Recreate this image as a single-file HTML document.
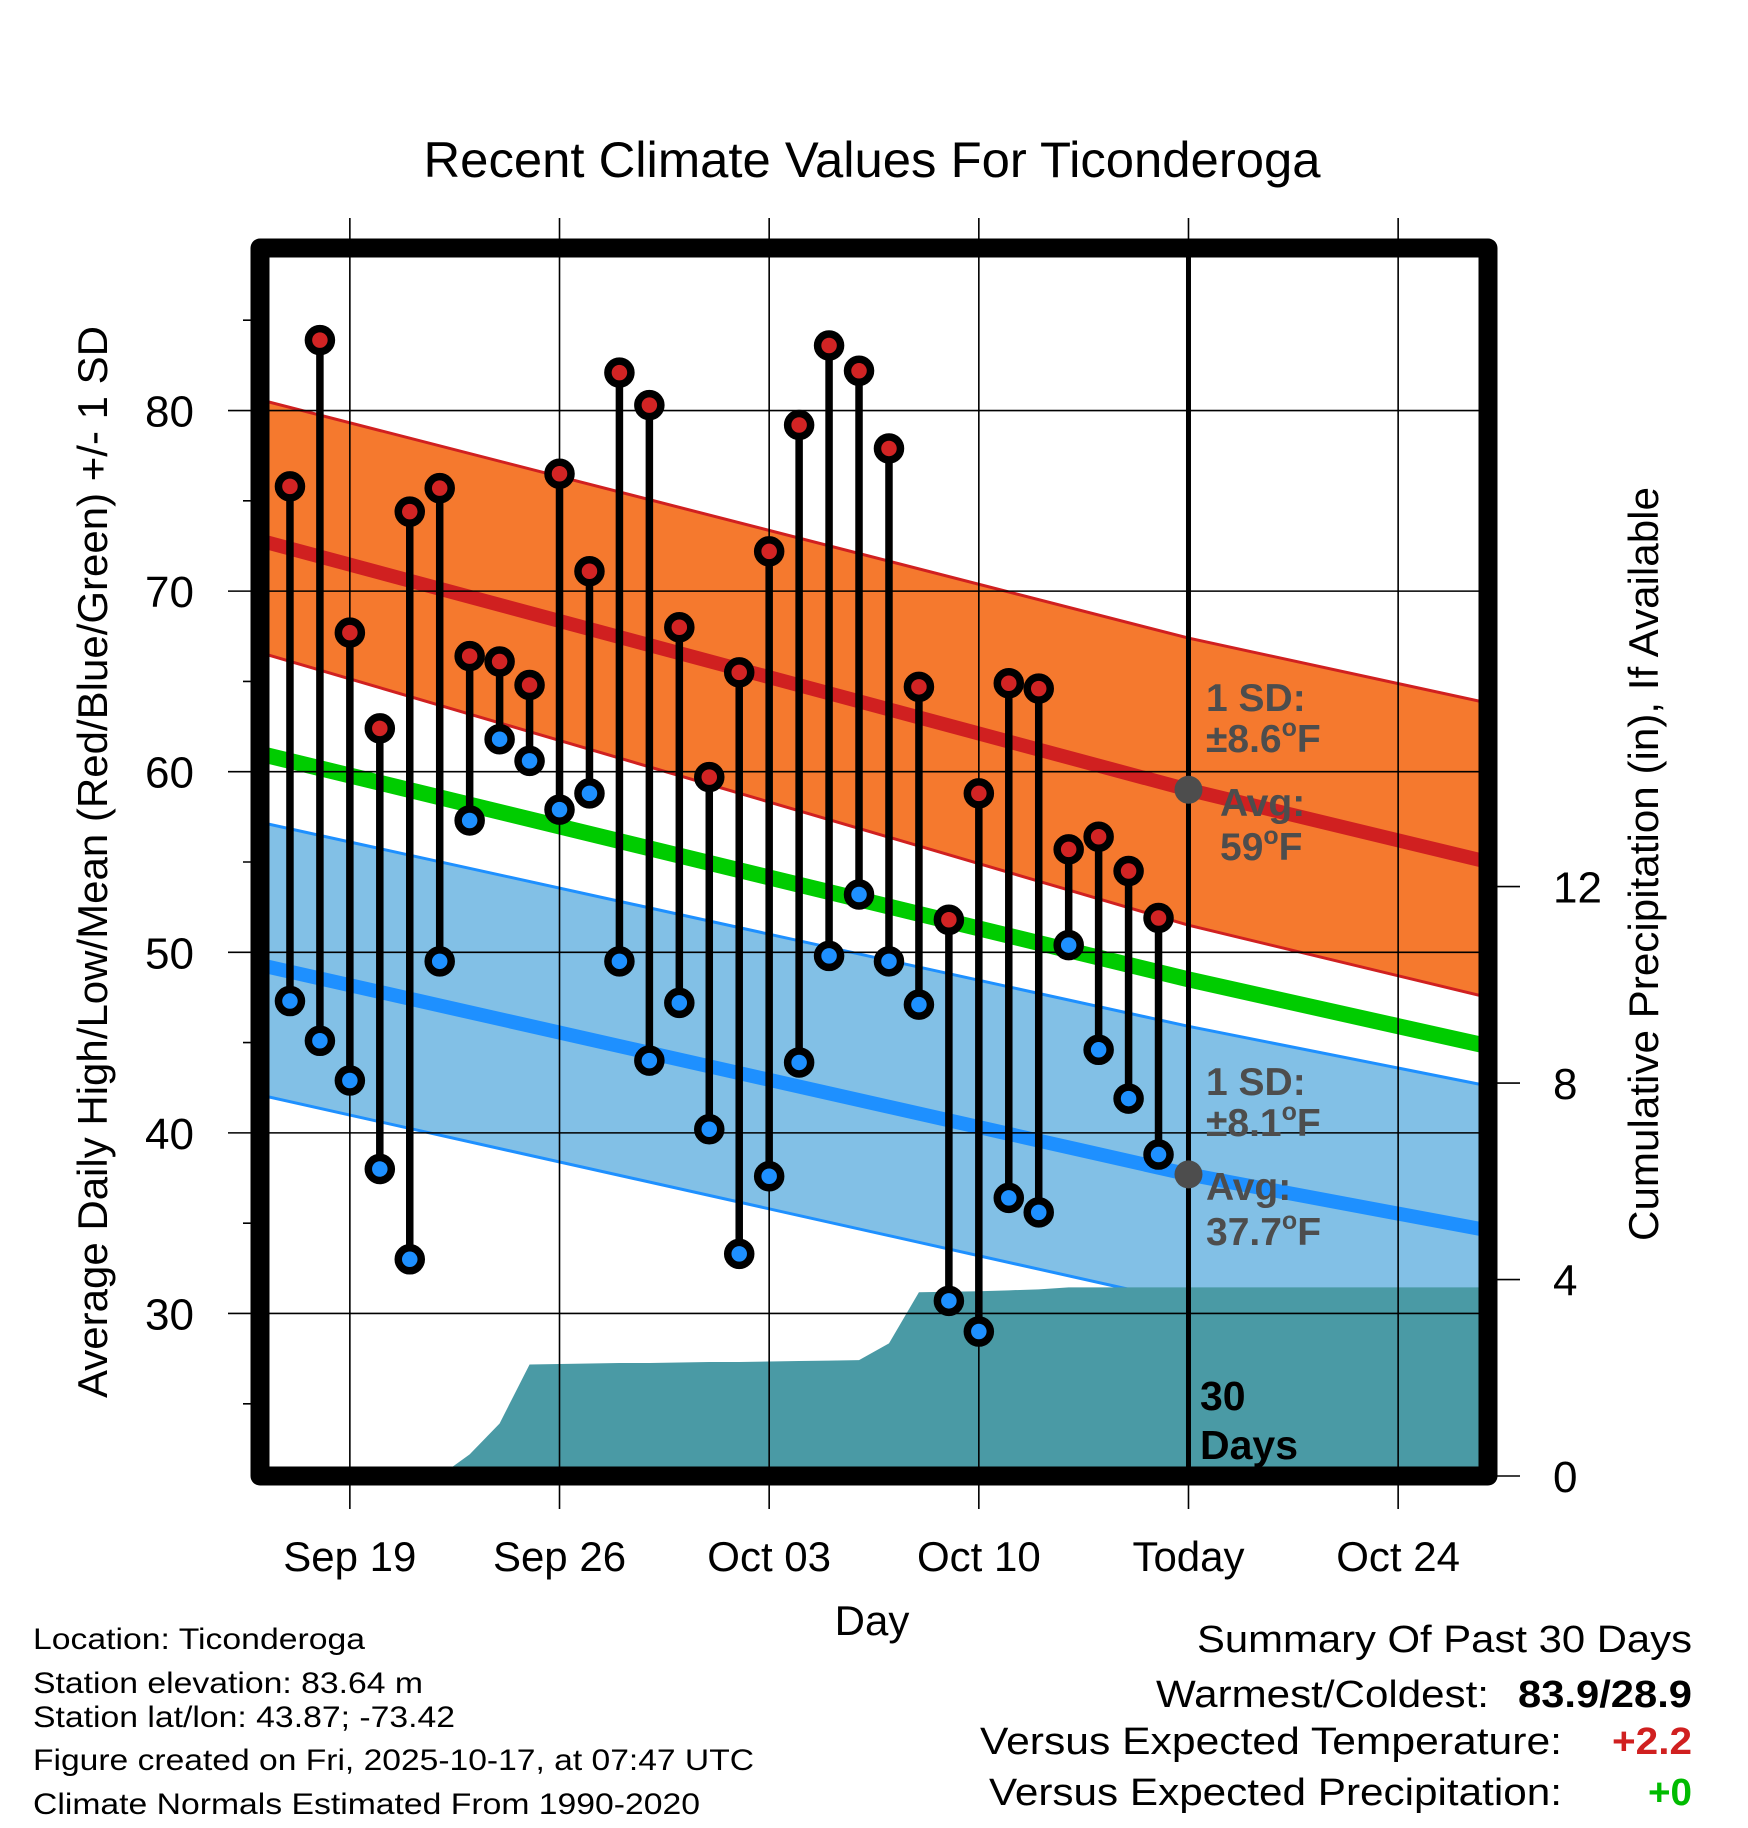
<!DOCTYPE html>
<html><head><meta charset="utf-8">
<style>
html,body{margin:0;padding:0;background:#fff;}
svg{display:block;font-family:"Liberation Sans",sans-serif;}
</style></head>
<body>
<svg id="chart" width="1748" height="1828" viewBox="0 0 1748 1828" xmlns="http://www.w3.org/2000/svg">
<rect x="0" y="0" width="1748" height="1828" fill="#fff"/>
<text x="872" y="177" font-size="50" text-anchor="middle" textLength="897" lengthAdjust="spacingAndGlyphs">Recent Climate Values For Ticonderoga</text>
<g id="plot"></g>
<text transform="translate(107,862) rotate(-90)" font-size="42" text-anchor="middle" textLength="1072" lengthAdjust="spacingAndGlyphs">Average Daily High/Low/Mean (Red/Blue/Green) +/- 1 SD</text>
<text transform="translate(1658,864) rotate(-90)" font-size="42" text-anchor="middle" textLength="754" lengthAdjust="spacingAndGlyphs">Cumulative Precipitation (in), If Available</text>
<text x="872" y="1635" font-size="42" text-anchor="middle">Day</text>
<g font-size="30">
<text x="33" y="1649" textLength="332" lengthAdjust="spacingAndGlyphs">Location: Ticonderoga</text>
<text x="33" y="1693" textLength="390" lengthAdjust="spacingAndGlyphs">Station elevation: 83.64 m</text>
<text x="33" y="1727" textLength="422" lengthAdjust="spacingAndGlyphs">Station lat/lon: 43.87; -73.42</text>
<text x="33" y="1770" textLength="721" lengthAdjust="spacingAndGlyphs">Figure created on Fri, 2025-10-17, at 07:47 UTC</text>
<text x="33" y="1814" textLength="667" lengthAdjust="spacingAndGlyphs">Climate Normals Estimated From 1990-2020</text>
</g>
<g font-size="38">
<text x="1692" y="1652" text-anchor="end" textLength="495" lengthAdjust="spacingAndGlyphs">Summary Of Past 30 Days</text>
<text x="1156" y="1707" textLength="333" lengthAdjust="spacingAndGlyphs">Warmest/Coldest:</text>
<text x="1518" y="1707" font-weight="bold" textLength="174" lengthAdjust="spacingAndGlyphs">83.9/28.9</text>
<text x="980" y="1754" textLength="582" lengthAdjust="spacingAndGlyphs">Versus Expected Temperature:</text>
<text x="1612" y="1754" font-weight="bold" fill="#D02020" textLength="80" lengthAdjust="spacingAndGlyphs">+2.2</text>
<text x="989" y="1805" textLength="573" lengthAdjust="spacingAndGlyphs">Versus Expected Precipitation:</text>
<text x="1648" y="1805" font-weight="bold" fill="#00BB00" textLength="44" lengthAdjust="spacingAndGlyphs">+0</text>
</g>
</svg>
<script>
// ---- data ----
const dayIdx = [-2,-1,0,1,2,3,4,5,6,7,8,9,10,11,12,13,14,15,16,17,18,19,20,21,22,23,24,25,26,27];
const highs = [75.8,83.9,67.7,62.4,74.4,75.7,66.4,66.1,64.8,76.5,71.1,82.1,80.3,68.0,59.7,65.5,72.2,79.2,83.6,82.2,77.9,64.7,51.8,58.8,64.9,64.6,55.7,56.4,54.5,51.9];
const lows = [47.3,45.1,42.9,38.0,33.0,49.5,57.3,61.8,60.6,57.9,58.8,49.5,44.0,47.2,40.2,33.3,37.6,43.9,49.8,53.2,49.5,47.1,30.7,29.0,36.4,35.6,50.4,44.6,41.9,38.8];
const precip = [0,0,0,0,0,0,0.44,1.07,2.27,2.28,2.29,2.30,2.30,2.31,2.32,2.32,2.33,2.34,2.35,2.36,2.70,3.74,3.75,3.76,3.78,3.80,3.84,3.84,3.84,3.84];
const normDays = [-3,28,38];
const hiUpper = [80.6,67.4,63.8];
const hiMean = [72.8,59.0,55.0];
const hiLower = [66.6,51.5,47.5];
const meanNorm = [61.0,48.5,44.8];
const loUpper = [57.2,45.9,42.6];
const loMean = [49.3,37.7,34.6];
const loLower = [42.1,30.6,26.5];
const tempTicks = [30,40,50,60,70,80];
const minorTicks = [25,35,45,55,65,75,85];
const precipTicks = [0,4,8,12];
const xTickDays = [0,7,14,21,28,35];
const xTickLabels = ["Sep 19","Sep 26","Oct 03","Oct 10","Today","Oct 24"];
const todayDay = 28;
const hiSD = "8.6", loSD = "8.1", hiAvg = "59", loAvg = "37.7";

// ---- axes ----
const X0=260, X1=1488, Y0=248, Y1=1476;
const dMin=-3, dMax=38, tMin=21, tMax=89, pMin=0, pMax=25;
const X = d => X0 + (d-dMin)/(dMax-dMin)*(X1-X0);
const Y = t => Y1 - (t-tMin)/(tMax-tMin)*(Y1-Y0);
const P = p => Y1 - (p-pMin)/(pMax-pMin)*(Y1-Y0);
const NS="http://www.w3.org/2000/svg";
const plot=document.getElementById('plot');
function mk(tag, attrs, parent){const e=document.createElementNS(NS,tag);for(const k in attrs)e.setAttribute(k,attrs[k]);(parent||plot).appendChild(e);return e;}

const defs=mk('defs',{});
const cp=mk('clipPath',{id:'clip'},defs);
mk('rect',{x:X0,y:Y0,width:X1-X0,height:Y1-Y0},cp);
const inner=mk('g',{'clip-path':'url(#clip)'});



function band(up,lo,fill,name){
  let pts=normDays.map((d,i)=>X(d)+','+Y(up[i]));
  pts=pts.concat(normDays.slice().reverse().map((d,i)=>X(d)+','+Y(lo[normDays.length-1-i])));
  const e=mk('polygon',{points:pts.join(' '),fill:fill},inner);
  
  
}
function line(vals,color,w,name){
  const e=mk('polyline',{points:normDays.map((d,i)=>X(d)+','+Y(vals[i])).join(' '),fill:'none',stroke:color,'stroke-width':w},inner);
  
  
}
band(hiUpper,hiLower,'#F5792E','high-sd-band');
band(loUpper,loLower,'#82C0E6','low-sd-band');
line(hiUpper,'#D02020',3,'high-upper-edge');
line(hiLower,'#D02020',3,'high-lower-edge');
line(loUpper,'#1E90FF',3,'low-upper-edge');
line(loLower,'#1E90FF',3,'low-lower-edge');
line(hiMean,'#D02020',14,'normal-high-line');
line(loMean,'#1E90FF',14,'normal-low-line');
line(meanNorm,'#00CC00',16,'normal-mean-line');

tempTicks.forEach(t=>{
  const g=mk('line',{x1:228,x2:X1,y1:Y(t),y2:Y(t),stroke:'#000','stroke-width':1.6});
  
  
});
minorTicks.forEach(t=>{
  const g=mk('line',{x1:243,x2:X0,y1:Y(t),y2:Y(t),stroke:'#000','stroke-width':1.6});
  
  
});
xTickDays.forEach((d,i)=>{
  const g=mk('line',{x1:X(d),x2:X(d),y1:218,y2:1509,stroke:'#000','stroke-width':1.6});
  
  
  const t=mk('text',{x:X(d),y:1571,'font-size':42,'text-anchor':'middle'});
  t.textContent=xTickLabels[i];
  
  
});
tempTicks.forEach(t=>{
  const e=mk('text',{x:194,y:Y(t)+16,'font-size':44,'text-anchor':'end'});
  e.textContent=String(t);
  
  
});
precipTicks.forEach(p=>{
  const l=mk('line',{x1:X1,x2:1520,y1:P(p),y2:P(p),stroke:'#000','stroke-width':1.6});
  
  
  const e=mk('text',{x:1553,y:P(p)+16,'font-size':44});
  e.textContent=String(p);
  
  
});

{
  let pts=[X(dayIdx[0])+','+P(0)];
  dayIdx.forEach((d,i)=>pts.push(X(d)+','+P(precip[i])));
  pts.push(X(dMax)+','+P(precip[precip.length-1]));
  pts.push(X(dMax)+','+P(0));
  const e=mk('polygon',{points:pts.join(' '),fill:'#4A9AA5'},inner);
  
  
}

{
  const e=mk('line',{x1:X(todayDay),x2:X(todayDay),y1:Y0,y2:Y1,stroke:'#000','stroke-width':5});
  
  
  const a=mk('circle',{cx:X(todayDay),cy:Y(hiMean[1]),r:14,fill:'#4D4D4D'});
  
  
  const b=mk('circle',{cx:X(todayDay),cy:Y(loMean[1]),r:14,fill:'#4D4D4D'});
  
  
}
function ann(x,y,html,name,fill,size){
  const t=mk('text',{x:x,y:y,'font-size':size||39,'font-weight':'bold',fill:fill||'#4D4D4D'});
  t.innerHTML=html;
  
  
}
const deg='<tspan dy="-16" font-size="25">o</tspan><tspan dy="16">F</tspan>';
ann(1206,711,'1 SD:','high-sd-label');
ann(1206,752,'±'+hiSD+deg,'high-sd-value');
ann(1220,816,'Avg:','high-avg-label');
ann(1220,860,hiAvg+deg,'high-avg-value');
ann(1206,1095,'1 SD:','low-sd-label');
ann(1206,1136,'±'+loSD+deg,'low-sd-value');
ann(1206,1200,'Avg:','low-avg-label');
ann(1206,1245,loAvg+deg,'low-avg-value');
ann(1200,1410,'30','days-count-label','#000',41);
ann(1200,1459,'Days','days-word-label','#000',41);

dayIdx.forEach((d,i)=>{
  const s=mk('line',{x1:X(d),x2:X(d),y1:Y(highs[i]),y2:Y(lows[i]),stroke:'#000','stroke-width':7.5});
  
  
  const h=mk('circle',{cx:X(d),cy:Y(highs[i]),r:11.5,fill:'#D22424',stroke:'#000','stroke-width':7.5});
  
  
  const l=mk('circle',{cx:X(d),cy:Y(lows[i]),r:11.5,fill:'#1E90FF',stroke:'#000','stroke-width':7.5});
  
  
});

{
  const f=mk('rect',{x:X0,y:Y0,width:X1-X0,height:Y1-Y0,fill:'none',stroke:'#000','stroke-width':19,'stroke-linejoin':'round'});
  
  
}
</script>
</body></html>
